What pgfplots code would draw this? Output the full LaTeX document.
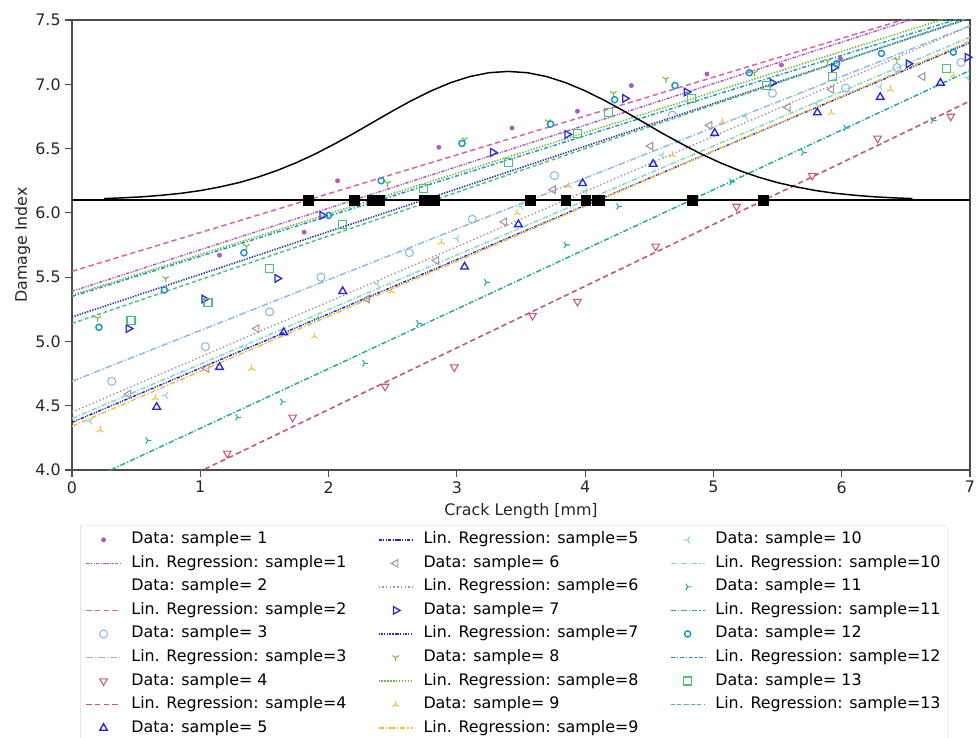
\documentclass[border=0pt]{standalone}
\usepackage{fontspec}
\setmainfont{DejaVu Sans}
\usepackage{pgfplots}
\pgfplotsset{compat=1.18}
\definecolor{cA}{RGB}{170,90,200}
\definecolor{cB}{RGB}{222,95,165}
\definecolor{cC}{RGB}{140,185,232}
\definecolor{cD}{RGB}{200,85,130}
\definecolor{cE}{RGB}{35,35,215}
\definecolor{cF}{RGB}{165,150,155}
\definecolor{cG}{RGB}{45,45,200}
\definecolor{cH}{RGB}{115,185,55}
\definecolor{cI}{RGB}{240,190,60}
\definecolor{cJ}{RGB}{125,222,190}
\definecolor{cK}{RGB}{30,170,160}
\definecolor{cL}{RGB}{30,150,195}
\definecolor{cM}{RGB}{75,195,115}
\tikzset{
 regA/.style={color=cA, draw=cA, line width=1.1pt, dash pattern=on 2.5pt off 1pt on 0.8pt off 1pt on 0.8pt off 1pt},
 regB/.style={color=cB, draw=cB, line width=1.1pt, dash pattern=on 4pt off 2.5pt},
 regC/.style={color=cC, draw=cC, line width=1.1pt, dash pattern=on 5pt off 1.5pt on 1pt off 1.5pt},
 regD/.style={color=cD, draw=cD, line width=1.2pt, dash pattern=on 4pt off 2.5pt},
 regE/.style={color=cE, draw=cE, line width=1.1pt, dash pattern=on 2.5pt off 1pt on 0.8pt off 1pt on 0.8pt off 1pt},
 regF/.style={color=cF, draw=cF, line width=1.1pt, dash pattern=on 1pt off 1.8pt},
 regG/.style={color=cG, draw=cG, line width=1.2pt, dash pattern=on 1pt off 1pt},
 regH/.style={color=cH, draw=cH, line width=1.2pt, dash pattern=on 1pt off 1.2pt},
 regI/.style={color=cI, draw=cI, line width=1.1pt, dash pattern=on 4pt off 1.5pt on 1pt off 1.5pt},
 regJ/.style={color=cJ, draw=cJ, line width=1.1pt, dash pattern=on 4pt off 1.5pt on 1pt off 1.5pt},
 regK/.style={color=cK, draw=cK, line width=1.1pt, dash pattern=on 4pt off 1.5pt on 1pt off 1.5pt},
 regL/.style={color=cL, draw=cL, line width=1.1pt, dash pattern=on 3pt off 1.5pt on 1pt off 1.5pt},
 regM/.style={color=cM, draw=cM, line width=1.1pt, dash pattern=on 3pt off 2pt},
 datA/.style={only marks, mark=*, mark size=1.6pt, color=cA},
 datC/.style={only marks, mark=o, mark size=3pt, color=cC, mark options={line width=0.8pt, solid}},
 datD/.style={only marks, mark=triangle, mark size=3.3pt, color=cD, mark options={rotate=180, line width=0.8pt, solid}},
 datE/.style={only marks, mark=triangle, mark size=3.3pt, color=cE, mark options={line width=1pt, solid}},
 datF/.style={only marks, mark=triangle, mark size=3.3pt, color=cF, mark options={rotate=90, line width=0.8pt, solid}},
 datG/.style={only marks, mark=triangle, mark size=3.3pt, color=cG, mark options={rotate=-90, line width=1pt, solid}},
 datH/.style={only marks, mark=Mercedes star flipped, mark size=2.8pt, color=cH, mark options={line width=0.8pt, solid}},
 datI/.style={only marks, mark=Mercedes star, mark size=2.8pt, color=cI, mark options={line width=0.8pt, solid}},
 datJ/.style={only marks, mark=Mercedes star, mark size=2.8pt, color=cJ, mark options={rotate=90, line width=0.8pt, solid}},
 datK/.style={only marks, mark=Mercedes star, mark size=2.8pt, color=cK, mark options={rotate=-90, line width=0.8pt, solid}},
 datL/.style={only marks, mark=o, mark size=2.3pt, color=cL, mark options={line width=1.1pt, solid}},
 datM/.style={only marks, mark=square, mark size=3pt, color=cM, mark options={line width=0.8pt, solid}},
}
\begin{document}
\begin{tikzpicture}
\begin{axis}[
 at={(0,0)}, anchor=south west,
 scale only axis, width=673.5pt, height=337.5pt,
 xmin=0, xmax=7, ymin=4, ymax=7.5,
 xtick={0,1,2,3,4,5,6,7},
 ytick={4,4.5,5,5.5,6,6.5,7,7.5},
 yticklabel style={/pgf/number format/.cd, fixed, fixed zerofill, precision=1},
 /pgf/number format/assume math mode=true,
 tick align=outside, tick pos=left,
 major tick length=5pt,
 axis line style={draw=black!70, line width=0.8pt},
 every tick/.style={black!70, line width=0.8pt},
 tick label style={font=\fontsize{11.9}{13.5}\selectfont, black!85},
 label style={font=\fontsize{11.9}{13.5}\selectfont, black!85},
 xlabel={Crack Length [mm]},
 ylabel={Damage Index},
 xlabel style={yshift=-1pt},
 ylabel style={yshift=-3pt},
 legend image code/.code={\draw[mark repeat=2,mark phase=2,#1] plot coordinates {(0cm,0cm) (0.45cm,0cm) (0.9cm,0cm)};},
 legend columns=3,
 legend cell align=left,
 legend style={at={(0.009,-0.122)}, anchor=north west, draw=black!15, rounded corners=2pt,
   font=\fontsize{11.9}{13.5}\selectfont,
   nodes={inner sep=1.5pt, text height=8.5pt, text depth=2.5pt},
   row sep=3.65pt, inner xsep=4pt, inner ysep=4pt,
   /tikz/every even column/.append style={column sep=22pt},
   /tikz/every odd column/.append style={column sep=6pt}},
]
% data
\addplot[datA, forget plot] coordinates {(1.15,5.67) (1.81,5.85) (2.07,6.25) (2.86,6.51) (3.43,6.66) (3.94,6.79) (4.36,6.99) (4.95,7.08) (5.53,7.15) (5.99,7.20)};
\addplot[datC, forget plot] coordinates {(0.31,4.69) (1.04,4.96) (1.54,5.23) (1.94,5.50) (2.63,5.69) (3.12,5.95) (3.76,6.29) (4.68,6.76) (5.46,6.93) (6.03,6.97) (6.43,7.13) (6.93,7.17)};
\addplot[datD, forget plot] coordinates {(1.21,4.13) (1.72,4.41) (2.44,4.65) (2.98,4.80) (3.59,5.20) (3.94,5.31) (4.55,5.74) (5.18,6.05) (5.77,6.29) (6.28,6.58) (6.85,6.75)};
\addplot[datE, forget plot] coordinates {(0.66,4.49) (1.15,4.80) (1.65,5.07) (2.11,5.39) (3.06,5.58) (3.48,5.91) (3.98,6.23) (4.53,6.38) (5.01,6.62) (5.81,6.78) (6.30,6.90) (6.77,7.01)};
\addplot[datF, forget plot] coordinates {(0.44,4.59) (1.05,4.79) (1.44,5.10) (2.30,5.33) (2.84,5.63) (3.37,5.93) (3.75,6.18) (4.51,6.52) (4.97,6.68) (5.58,6.82) (5.92,6.96) (6.63,7.06)};
\addplot[datG, forget plot] coordinates {(0.44,5.10) (1.03,5.33) (1.60,5.49) (1.95,5.98) (3.28,6.47) (3.86,6.61) (4.31,6.89) (4.79,6.94) (5.46,7.01) (5.94,7.13) (6.52,7.16) (6.98,7.21)};
\addplot[datH, forget plot] coordinates {(0.20,5.18) (0.73,5.49) (1.36,5.74) (2.46,6.23) (3.06,6.57) (3.71,6.71) (4.22,6.93) (4.63,7.04) (5.32,7.09) (5.89,7.18) (6.43,7.19)};
\addplot[datI, forget plot] coordinates {(0.22,4.31) (0.65,4.56) (1.40,4.79) (1.89,5.04) (2.49,5.39) (2.88,5.77) (3.47,6.00) (3.87,6.21) (4.68,6.45) (5.07,6.71) (5.92,6.78) (6.38,6.96) (6.87,7.07)};
\addplot[datJ, forget plot] coordinates {(0.14,4.38) (0.73,4.58) (1.35,4.95) (1.91,5.18) (2.38,5.45) (3.00,5.80) (3.50,6.05) (4.00,6.17) (4.60,6.45) (5.25,6.75) (5.80,6.85) (6.30,6.98) (6.98,7.05)};
\addplot[datK, forget plot] coordinates {(0.59,4.23) (1.29,4.41) (1.64,4.53) (2.28,4.83) (2.70,5.14) (3.23,5.46) (3.85,5.75) (4.26,6.05) (5.14,6.24) (5.70,6.47) (6.03,6.66) (6.71,6.72)};
\addplot[datL, forget plot] coordinates {(0.21,5.11) (0.72,5.40) (1.34,5.69) (2.00,5.98) (2.41,6.25) (3.04,6.54) (3.73,6.69) (4.23,6.88) (4.70,6.99) (5.28,7.09) (5.96,7.16) (6.31,7.24) (6.87,7.25)};
\addplot[datM, forget plot] coordinates {(0.46,5.16) (1.06,5.30) (1.54,5.57) (2.11,5.91) (2.74,6.19) (3.40,6.39) (3.94,6.62) (4.18,6.78) (4.83,6.89) (5.41,6.99) (5.93,7.06) (6.82,7.12)};
% regression lines
\addplot[regA, forget plot] coordinates {(0,5.39) (7,7.651)};
\addplot[regB, forget plot] coordinates {(0,5.545) (7,7.659)};
\addplot[regC, forget plot] coordinates {(0,4.69) (7,7.455)};
\addplot[regD, forget plot] coordinates {(0,3.51) (7,6.87)};
\addplot[regE, forget plot] coordinates {(0,4.37) (7,7.324)};
\addplot[regF, forget plot] coordinates {(0,4.45) (7,7.453)};
\addplot[regG, forget plot] coordinates {(0,5.19) (7,7.514)};
\addplot[regH, forget plot] coordinates {(0,5.36) (7,7.572)};
\addplot[regI, forget plot] coordinates {(0,4.34) (7,7.336)};
\addplot[regJ, forget plot] coordinates {(0,4.40) (7,7.368)};
\addplot[regK, forget plot] coordinates {(0,3.86) (7,7.108)};
\addplot[regL, forget plot] coordinates {(0,5.35) (7,7.5375)};
\addplot[regM, forget plot] coordinates {(0,5.14) (7,7.52)};
% threshold, distribution curve and crossings
\addplot[black, line width=1.1pt, forget plot] coordinates {
(0.25,6.111) (0.40,6.117) (0.55,6.125) (0.70,6.137) (0.85,6.152) (1.00,6.173) (1.15,6.201) (1.30,6.235)
(1.45,6.278) (1.60,6.330) (1.75,6.391) (1.90,6.460) (2.05,6.538) (2.20,6.620) (2.35,6.707) (2.50,6.793)
(2.65,6.875) (2.80,6.949) (2.95,7.012) (3.10,7.060) (3.25,7.090) (3.40,7.100) (3.55,7.090) (3.70,7.060)
(3.85,7.012) (4.00,6.949) (4.15,6.875) (4.30,6.793) (4.45,6.707) (4.60,6.620) (4.75,6.538) (4.90,6.460)
(5.05,6.391) (5.20,6.330) (5.35,6.278) (5.50,6.235) (5.65,6.201) (5.80,6.173) (5.95,6.152) (6.10,6.137)
(6.25,6.125) (6.40,6.117) (6.55,6.111)};
\addplot[black, line width=1.6pt, forget plot] coordinates {(0,6.1) (7,6.1)};
\addplot[only marks, mark=square*, mark size=3.6pt, black, forget plot] coordinates {
(1.842,6.1) (2.200,6.1) (2.336,6.1) (2.395,6.1) (2.744,6.1) (2.822,6.1) (3.574,6.1)
(3.850,6.1) (4.004,6.1) (4.094,6.1) (4.110,6.1) (4.835,6.1) (5.388,6.1)};
% legend, row by row (three columns, filled column-wise)
\addlegendimage{datA}\addlegendentry{Data: sample= 1}
\addlegendimage{regE}\addlegendentry{Lin. Regression: sample=5}
\addlegendimage{datJ}\addlegendentry{Data: sample= 10}
\addlegendimage{regA}\addlegendentry{Lin. Regression: sample=1}
\addlegendimage{datF}\addlegendentry{Data: sample= 6}
\addlegendimage{regJ}\addlegendentry{Lin. Regression: sample=10}
\addlegendimage{empty legend}\addlegendentry{Data: sample= 2}
\addlegendimage{regF}\addlegendentry{Lin. Regression: sample=6}
\addlegendimage{datK}\addlegendentry{Data: sample= 11}
\addlegendimage{regB}\addlegendentry{Lin. Regression: sample=2}
\addlegendimage{datG}\addlegendentry{Data: sample= 7}
\addlegendimage{regK}\addlegendentry{Lin. Regression: sample=11}
\addlegendimage{datC}\addlegendentry{Data: sample= 3}
\addlegendimage{regG}\addlegendentry{Lin. Regression: sample=7}
\addlegendimage{datL}\addlegendentry{Data: sample= 12}
\addlegendimage{regC}\addlegendentry{Lin. Regression: sample=3}
\addlegendimage{datH}\addlegendentry{Data: sample= 8}
\addlegendimage{regL}\addlegendentry{Lin. Regression: sample=12}
\addlegendimage{datD}\addlegendentry{Data: sample= 4}
\addlegendimage{regH}\addlegendentry{Lin. Regression: sample=8}
\addlegendimage{datM}\addlegendentry{Data: sample= 13}
\addlegendimage{regD}\addlegendentry{Lin. Regression: sample=4}
\addlegendimage{datI}\addlegendentry{Data: sample= 9}
\addlegendimage{regM}\addlegendentry{Lin. Regression: sample=13}
\addlegendimage{datE}\addlegendentry{Data: sample= 5}
\addlegendimage{regI}\addlegendentry{Lin. Regression: sample=9}
\end{axis}
\pgfresetboundingbox
\path[use as bounding box] (-54pt,-201pt) rectangle (679.5pt,352.5pt);
\end{tikzpicture}
\end{document}
